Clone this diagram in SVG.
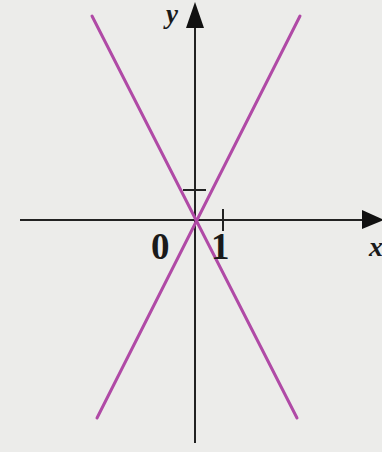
<svg xmlns="http://www.w3.org/2000/svg" width="382" height="452" viewBox="0 0 382 452">
<style>
.axis{stroke:#222;stroke-width:2;fill:none}
.graph{stroke:#b04aa6;stroke-width:3;fill:none;stroke-linecap:round}
.lbl{font-family:"Liberation Serif","DejaVu Serif",serif;fill:#1a1a1a}
</style>
<rect width="382" height="452" fill="#ececea"/>
<g id="connectors">
<line class="axis" x1="20" y1="220" x2="366" y2="220"/>
<polygon points="384,220 362,210 362,229" fill="#111"/>
<line class="axis" x1="195" y1="443" x2="195" y2="24"/>
<polygon points="195,2 186,28 204,28" fill="#111"/>
<line class="axis" x1="183" y1="190" x2="206" y2="190"/>
<line class="axis" x1="223" y1="209" x2="223" y2="231"/>
<line class="graph" x1="92" y1="16" x2="297" y2="418"/>
<line class="graph" x1="300" y1="16" x2="97" y2="418"/>
</g>
<g id="label-y"><text class="lbl" x="166" y="23" font-size="27" font-style="italic" font-weight="bold">y</text></g>
<g id="label-x"><text class="lbl" x="369" y="256" font-size="28" font-style="italic" font-weight="bold">x</text></g>
<g id="label-0"><text class="lbl" x="151" y="259" font-size="37" font-weight="bold">0</text></g>
<g id="label-1"><text class="lbl" x="211" y="259" font-size="37" font-weight="bold">1</text></g>
</svg>
